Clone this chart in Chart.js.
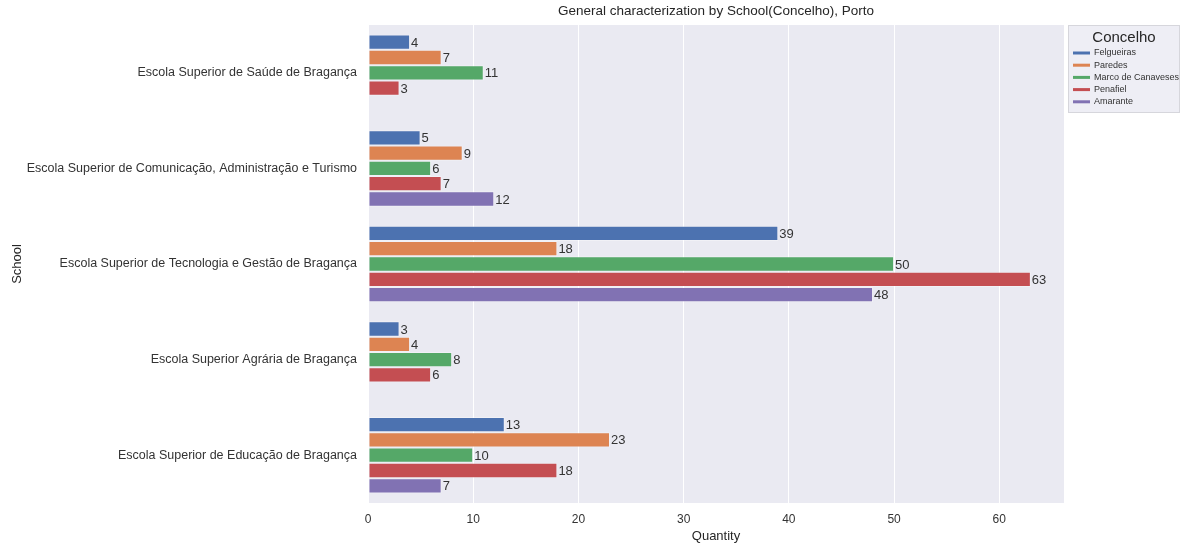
<!DOCTYPE html>
<html>
<head>
<meta charset="utf-8">
<script src="https://cdn.jsdelivr.net/npm/chart.js@4"></script>
<style>
  html, body { margin: 0; padding: 0; background: #fff; }
  #wrap { width: 1184px; height: 544px; }
</style>
</head>
<body>
<div id="wrap"><canvas id="chart" width="1184" height="544"></canvas></div>
<script>
const schools = [
  "Escola Superior de Saúde de Bragança",
  "Escola Superior de Comunicação, Administração e Turismo",
  "Escola Superior de Tecnologia e Gestão de Bragança",
  "Escola Superior Agrária de Bragança",
  "Escola Superior de Educação de Bragança"
];
const concelhos = ["Felgueiras", "Paredes", "Marco de Canaveses", "Penafiel", "Amarante"];
const felgueiras = [4, 5, 39, 3, 13];
const paredes = [7, 9, 18, 4, 23];
const marco = [11, 6, 50, 8, 10];
const penafiel = [3, 7, 63, 6, 18];
const amarante = [null, 12, 48, null, 7];
const xTicks = [0, 10, 20, 30, 40, 50, 60];

const colors = ["#4C72B0", "#DD8452", "#55A868", "#C44E52", "#8172B3"];
const series = [felgueiras, paredes, marco, penafiel, amarante];
const FONT = "'Liberation Sans', Arial, sans-serif";
const TEXT = "#333333";

// plot background (seaborn darkgrid)
const bgPlugin = {
  id: "bg",
  beforeDraw(chart) {
    const { ctx, chartArea: a } = chart;
    ctx.save();
    ctx.fillStyle = "#EAEAF2";
    ctx.fillRect(a.left, a.top, a.right - a.left, a.bottom - a.top);
    ctx.restore();
  }
};

// numbers at the end of each bar + title + legend
const labelPlugin = {
  id: "labels",
  afterDatasetsDraw(chart) {
    const ctx = chart.ctx;
    ctx.save();
    ctx.font = "13px " + FONT;
    ctx.fillStyle = TEXT;
    ctx.textBaseline = "middle";
    ctx.textAlign = "left";
    chart.data.datasets.forEach((ds, i) => {
      chart.getDatasetMeta(i).data.forEach((bar, j) => {
        const v = ds.data[j];
        if (v == null) return;
        ctx.fillText(String(v), bar.x + 1, bar.y + 1);
      });
    });
    ctx.restore();
  },
  afterDraw(chart) {
    const ctx = chart.ctx;
    const a = chart.chartArea;
    ctx.save();
    // title
    ctx.font = "13.5px " + FONT;
    ctx.fillStyle = "#262626";
    ctx.textAlign = "center";
    ctx.textBaseline = "middle";
    ctx.fillText("General characterization by School(Concelho), Porto", (a.left + a.right) / 2, 11);

    // legend
    const lx = 1068, ly = 25, lw = 112, lh = 88;
    ctx.fillStyle = "rgba(234,234,242,0.8)";
    ctx.fillRect(lx, ly, lw, lh);
    ctx.strokeStyle = "#D6D6DC";
    ctx.lineWidth = 1;
    ctx.strokeRect(lx + 0.5, ly + 0.5, lw - 1, lh - 1);
    ctx.fillStyle = "#262626";
    ctx.font = "15px " + FONT;
    ctx.fillText("Concelho", lx + lw / 2, ly + 13);
    ctx.font = "9px " + FONT;
    ctx.textAlign = "left";
    concelhos.forEach((name, i) => {
      const y = ly + 28 + i * 12.2;
      ctx.strokeStyle = colors[i];
      ctx.lineWidth = 3;
      ctx.beginPath();
      ctx.moveTo(lx + 5, y);
      ctx.lineTo(lx + 22, y);
      ctx.stroke();
      ctx.fillStyle = TEXT;
      ctx.fillText(name, lx + 26, y);
    });
    ctx.restore();
  }
};

new Chart(document.getElementById("chart"), {
  type: "bar",
  data: {
    labels: schools,
    datasets: concelhos.map((name, i) => ({
      label: name,
      data: series[i],
      backgroundColor: colors[i],
      borderColor: "rgba(255,255,255,0.35)",
      borderWidth: 1,
      borderSkipped: false,
      categoryPercentage: 0.8,
      barPercentage: 1.0
    }))
  },
  options: {
    indexAxis: "y",
    responsive: false,
    animation: false,
    layout: { padding: { top: 25, right: 120, bottom: 0, left: 10 } },
    plugins: {
      legend: { display: false },
      tooltip: { enabled: false },
      title: { display: false }
    },
    scales: {
      x: {
        min: 0,
        max: 66.15,
        afterBuildTicks(scale) {
          scale.ticks = xTicks.map(v => ({ value: v }));
        },
        afterFit(scale) { scale.height = 41; },
        grid: { color: "#FFFFFF", lineWidth: 1, drawTicks: false },
        border: { display: false },
        ticks: { color: TEXT, font: { family: FONT, size: 12 }, padding: 9 },
        title: { display: true, text: "Quantity", color: "#262626", font: { family: FONT, size: 13 }, padding: { top: 1, bottom: 0 } }
      },
      y: {
        afterFit(scale) { scale.width = 358; },
        grid: { display: false, drawTicks: false },
        border: { display: false },
        ticks: { color: TEXT, font: { family: FONT, size: 12.5 }, padding: 11 },
        title: { display: true, text: "School", color: "#262626", font: { family: FONT, size: 13 }, padding: { top: 0, bottom: 0 } }
      }
    }
  },
  plugins: [bgPlugin, labelPlugin]
});
</script>
</body>
</html>
